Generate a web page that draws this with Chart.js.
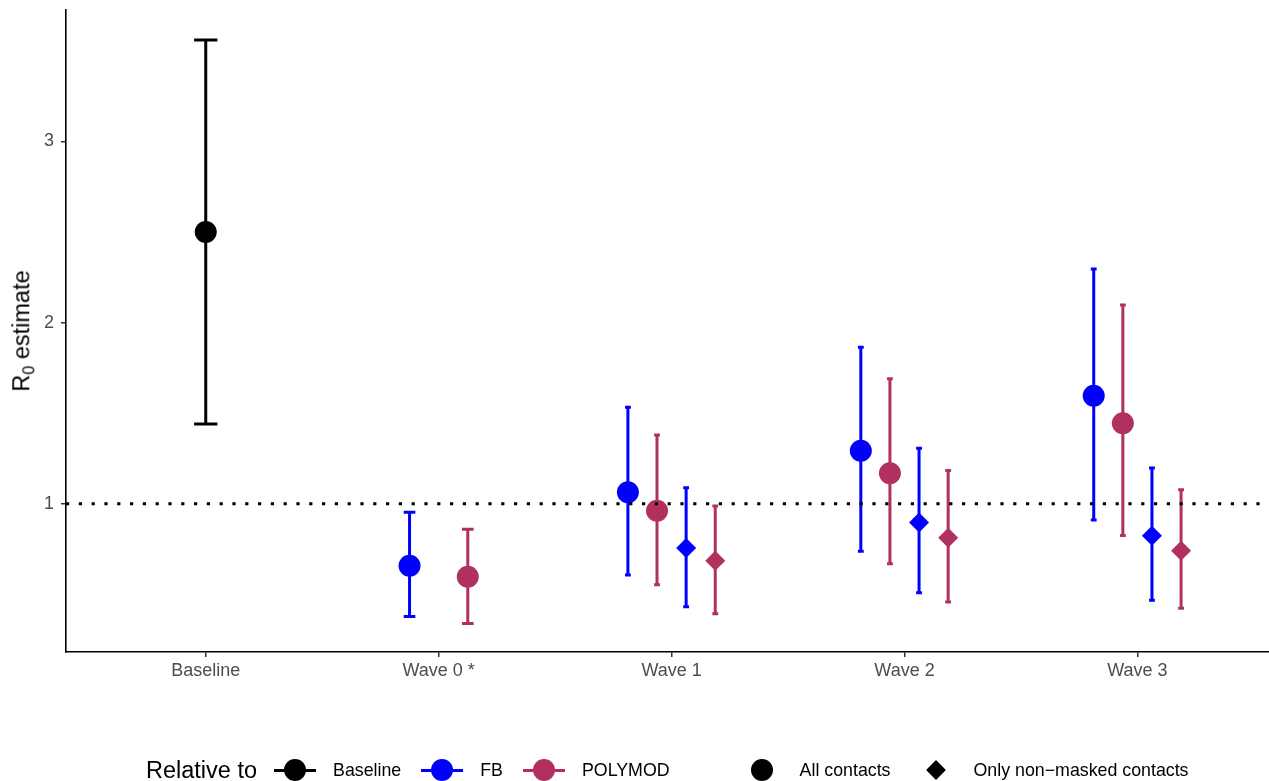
<!DOCTYPE html>
<html>
<head>
<meta charset="utf-8">
<script src="https://cdn.jsdelivr.net/npm/chart.js@4.4.1/dist/chart.umd.min.js"></script>
<style>
html, body { margin: 0; padding: 0; background: #ffffff; }
#wrap { position: relative; width: 1269px; height: 781px; overflow: hidden; font-family: "Liberation Sans", Arial, Helvetica, sans-serif; }
#chart { position: absolute; left: 0; top: 0; }
#ytitle { position: absolute; left: 22px; top: 331px; transform: translate(-50%, -50%) rotate(-90deg); font-size: 23.5px; white-space: nowrap; color: #000; line-height: 1; }
#ytitle sub { font-size: 16px; vertical-align: -5px; line-height: 0; }
#legend { position: absolute; left: 146px; top: 758px; height: 24px; display: flex; align-items: center; white-space: nowrap; color: #000; }
#legend .title { font-size: 23.5px; margin-right: 17px; }
#legend .key { position: relative; width: 42px; height: 24px; margin-right: 17px; flex: none; }
#legend .key .ln { position: absolute; left: 0; right: 0; top: 10.5px; height: 3px; }
#legend .key .dot { position: absolute; left: 10px; top: 1px; width: 22px; height: 22px; border-radius: 50%; }
#legend .key .dia { position: absolute; left: 14px; top: 5px; width: 14px; height: 14px; transform: rotate(45deg); }
#legend .lab { font-size: 17.8px; margin-right: 20px; }
#legend .lab.c { margin-right: 24px; }
#legend .gap { width: 51px; flex: none; }
</style>
</head>
<body>
<div id="wrap">
  <canvas id="chart" width="1269" height="781"></canvas>
  <div id="ytitle">R<sub>0</sub> estimate</div>
  <div id="legend"></div>
</div>
<script>
// ---------- data ----------
const categories = ['Baseline', 'Wave 0 *', 'Wave 1', 'Wave 2', 'Wave 3'];
const yTicks = [1, 2, 3];
const refLine = 1;

const baselineAllEst = [2.50, null, null, null, null];
const baselineAllLo  = [1.44, null, null, null, null];
const baselineAllHi  = [3.56, null, null, null, null];

const fbAllEst = [null, 0.658, 1.063, 1.292, 1.596];
const fbAllLo  = [null, 0.377, 0.607, 0.737, 0.910];
const fbAllHi  = [null, 0.953, 1.532, 1.863, 2.295];

const polymodAllEst = [null, 0.597, 0.961, 1.168, 1.444];
const polymodAllLo  = [null, 0.339, 0.553, 0.669, 0.825];
const polymodAllHi  = [null, 0.859, 1.379, 1.690, 2.097];

const fbMaskEst = [null, null, 0.756, 0.897, 0.823];
const fbMaskLo  = [null, null, 0.432, 0.509, 0.467];
const fbMaskHi  = [null, null, 1.088, 1.306, 1.197];

const polymodMaskEst = [null, null, 0.685, 0.812, 0.741];
const polymodMaskLo  = [null, null, 0.393, 0.458, 0.423];
const polymodMaskHi  = [null, null, 0.987, 1.184, 1.077];

const relativeTo = ['Baseline', 'FB', 'POLYMOD'];
const contactTypes = ['All contacts', 'Only non\u2212masked contacts'];
const legendTitle = 'Relative to';

// ---------- styles ----------
const refColors = ['#000000', '#0000FF', '#B03060'];
const contactShapes = ['circle', 'rectRot'];
const shapeRadius = [11, 10];
const FONT = '"Liberation Sans", Arial, Helvetica, sans-serif';

const series = [
  { ref: 0, contact: 0, est: baselineAllEst, lo: baselineAllLo, hi: baselineAllHi },
  { ref: 1, contact: 0, est: fbAllEst, lo: fbAllLo, hi: fbAllHi },
  { ref: 2, contact: 0, est: polymodAllEst, lo: polymodAllLo, hi: polymodAllHi },
  { ref: 1, contact: 1, est: fbMaskEst, lo: fbMaskLo, hi: fbMaskHi },
  { ref: 2, contact: 1, est: polymodMaskEst, lo: polymodMaskLo, hi: polymodMaskHi }
];

// dodge positions (width 0.5) and error bar cap half-widths
const dodge = series.map(() => categories.map(() => null));
categories.forEach((c, i) => {
  const present = series.map((s, k) => k).filter(k => series[k].est[i] != null);
  const n = present.length;
  present.forEach((k, slot) => {
    dodge[k][i] = { dx: -0.25 + (slot + 0.5) * 0.5 / n, cap: 0.05 / n };
  });
});

const errorBars = {
  id: 'errorBars',
  beforeDatasetsDraw(chart) {
    const ctx = chart.ctx, xs = chart.scales.x, ys = chart.scales.y;
    ctx.save();
    ctx.lineWidth = 3;
    ctx.lineCap = 'butt';
    series.forEach((s, k) => {
      s.est.forEach((v, i) => {
        if (v == null) return;
        const d = dodge[k][i];
        const px = xs.getPixelForValue(i + d.dx);
        const hw = xs.getPixelForValue(i + d.dx + d.cap) - px;
        const yl = ys.getPixelForValue(s.lo[i]);
        const yh = ys.getPixelForValue(s.hi[i]);
        ctx.strokeStyle = refColors[s.ref];
        ctx.beginPath();
        ctx.moveTo(px - hw, yh); ctx.lineTo(px + hw, yh);
        ctx.moveTo(px, yh); ctx.lineTo(px, yl);
        ctx.moveTo(px - hw, yl); ctx.lineTo(px + hw, yl);
        ctx.stroke();
      });
    });
    ctx.restore();
  }
};

const refLinePlugin = {
  id: 'refLine',
  afterDatasetsDraw(chart) {
    const ctx = chart.ctx, a = chart.chartArea, ys = chart.scales.y;
    const y = ys.getPixelForValue(refLine);
    ctx.save();
    ctx.strokeStyle = '#000';
    ctx.lineWidth = 3;
    ctx.setLineDash([3.2, 9.6]);
    ctx.beginPath();
    ctx.moveTo(a.left, y);
    ctx.lineTo(a.right, y);
    ctx.stroke();
    ctx.restore();
  }
};

const axisCommon = {
  grid: { display: true, drawOnChartArea: false, drawTicks: true, tickLength: 5, color: '#333333', lineWidth: 1.5 },
  border: { display: true, color: '#000000', width: 1.6 }
};

function noPad(s) { s.paddingLeft = 0; s.paddingRight = 0; s.paddingTop = 0; s.paddingBottom = 0; }

new Chart(document.getElementById('chart'), {
  type: 'scatter',
  data: {
    datasets: series.map((s, k) => ({
      label: relativeTo[s.ref] + ' / ' + contactTypes[s.contact],
      data: s.est.map((v, i) => v == null ? null : { x: i + dodge[k][i].dx, y: v }).filter(p => p),
      pointStyle: contactShapes[s.contact],
      pointRadius: shapeRadius[s.contact],
      pointHoverRadius: shapeRadius[s.contact],
      backgroundColor: refColors[s.ref],
      borderColor: refColors[s.ref],
      borderWidth: 0,
      showLine: false
    }))
  },
  options: {
    responsive: false,
    animation: false,
    devicePixelRatio: 1,
    events: [],
    layout: { autoPadding: false, padding: { left: 0, right: 0, top: 10, bottom: 0 } },
    plugins: { legend: { display: false }, tooltip: { enabled: false }, title: { display: false } },
    scales: {
      x: Object.assign({}, axisCommon, {
        type: 'linear', min: -0.6, max: 4.565,
        afterBuildTicks: s => { s.ticks = categories.map((c, i) => ({ value: i })); },
        afterFit: s => { s.height = 129; noPad(s); },
        ticks: { callback: v => categories[v], color: '#4D4D4D', font: { size: 18, family: FONT }, padding: 3, autoSkip: false, maxRotation: 0 }
      }),
      y: Object.assign({}, axisCommon, {
        type: 'linear', min: 0.1816, max: 3.725,
        afterBuildTicks: s => { s.ticks = yTicks.map(v => ({ value: v })); },
        afterFit: s => { s.width = 66; noPad(s); },
        ticks: { callback: v => String(v), color: '#4D4D4D', font: { size: 18, family: FONT }, padding: 7 }
      })
    }
  },
  plugins: [errorBars, refLinePlugin]
});

// ---------- legend (HTML) ----------
const lg = document.getElementById('legend');
const t = document.createElement('span'); t.className = 'title'; t.textContent = legendTitle; lg.appendChild(t);
relativeTo.forEach((name, r) => {
  const key = document.createElement('span'); key.className = 'key';
  key.innerHTML = '<span class="ln" style="background:' + refColors[r] + '"></span><span class="dot" style="background:' + refColors[r] + '"></span>';
  lg.appendChild(key);
  const lab = document.createElement('span'); lab.className = 'lab'; lab.textContent = name; lg.appendChild(lab);
});
const gap = document.createElement('span'); gap.className = 'gap'; lg.appendChild(gap);
contactTypes.forEach((name, c) => {
  const key = document.createElement('span'); key.className = 'key';
  key.innerHTML = c === 0 ? '<span class="dot" style="background:#000"></span>' : '<span class="dia" style="background:#000"></span>';
  lg.appendChild(key);
  const lab = document.createElement('span'); lab.className = 'lab c'; lab.textContent = name; lg.appendChild(lab);
});
</script>
</body>
</html>
